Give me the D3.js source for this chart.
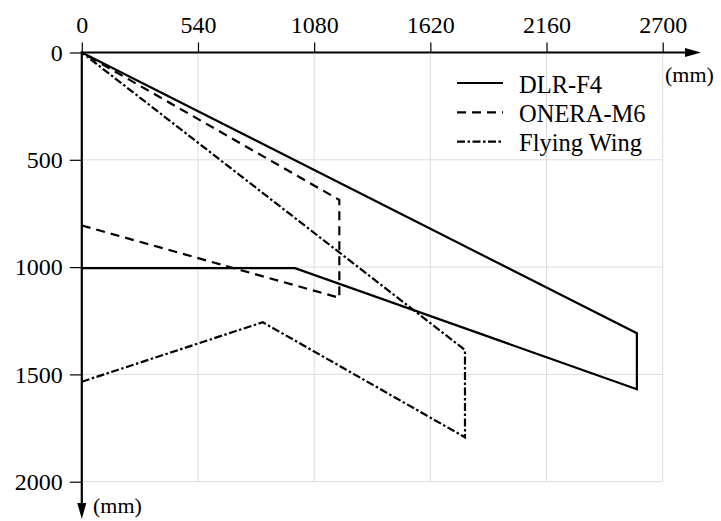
<!DOCTYPE html>
<html>
<head>
<meta charset="utf-8">
<script src="https://cdn.jsdelivr.net/npm/d3@7/dist/d3.min.js"></script>
<style>
  html, body { margin: 0; padding: 0; background: #fff; }
  svg { display: block; }
</style>
</head>
<body>
<svg id="chart" width="721" height="521"></svg>
<script>
// Planform outlines of three wings (x = spanwise, y = chordwise, mm)
const seriesNames = ["DLR-F4", "ONERA-M6", "Flying Wing"];
const dlrF4 = [[0, 1005], [991, 1005], [2580, 1569], [2580, 1308], [0, 0]];
const oneraM6 = [[0, 806], [1197, 1143], [1197, 687], [0, 0]];
const flyingWing = [[0, 1534], [841, 1257], [1781, 1793], [1781, 1386], [0, 0]];
const xTicks = [0, 540, 1080, 1620, 2160, 2700];
const yTicks = [0, 500, 1000, 1500, 2000];
const dashes = [null, "9,6", "8,2.5,2.5,2.5"];
const serif = "Liberation Serif";

const svg = d3.select("#chart");
const x = d3.scaleLinear().domain([0, 2700]).range([81.8, 662.7]);
const y = d3.scaleLinear().domain([0, 2000]).range([52.5, 481.7]);

// grid
const grid = svg.append("g").attr("stroke", "#dcdcdc").attr("stroke-width", 1);
grid.selectAll(".gx").data(xTicks.slice(1)).join("line")
  .attr("x1", d => x(d)).attr("x2", d => x(d))
  .attr("y1", y(0)).attr("y2", y(2000));
grid.selectAll(".gy").data(yTicks.slice(1)).join("line")
  .attr("x1", x(0)).attr("x2", x(2700))
  .attr("y1", d => y(d)).attr("y2", d => y(d));

// axes
const xAxis = svg.append("g").attr("transform", `translate(0,${y(0)})`)
  .call(d3.axisTop(x).tickValues(xTicks).tickSize(10).tickPadding(10).tickFormat(d3.format("d")));
const yAxis = svg.append("g").attr("transform", `translate(${x(0)},0)`)
  .call(d3.axisLeft(y).tickValues(yTicks).tickSize(12).tickPadding(7).tickFormat(d3.format("d")));
[xAxis, yAxis].forEach(g => {
  g.attr("font-family", serif).attr("font-size", 24);
  g.select(".domain").remove();
  g.selectAll(".tick line").attr("stroke", "#000").attr("stroke-width", 1.2);
  g.selectAll(".tick text").attr("font-family", serif).attr("font-size", 24).attr("fill", "#000");
});

// axis lines with arrow heads
svg.append("line").attr("x1", x(0) - 1).attr("x2", 690).attr("y1", y(0)).attr("y2", y(0))
  .attr("stroke", "#000").attr("stroke-width", 2.2);
svg.append("path").attr("d", `M701,${y(0)} L685,${y(0) - 4.5} L685,${y(0) + 4.5} Z`).attr("fill", "#000");
svg.append("line").attr("x1", x(0)).attr("x2", x(0)).attr("y1", y(0) - 1).attr("y2", 508)
  .attr("stroke", "#000").attr("stroke-width", 2.2);
svg.append("path").attr("d", `M${x(0)},519 L${x(0) - 4.5},503 L${x(0) + 4.5},503 Z`).attr("fill", "#000");

svg.append("text").attr("x", 665).attr("y", 82).attr("font-family", serif).attr("font-size", 22).text("(mm)");
svg.append("text").attr("x", 93).attr("y", 513).attr("font-family", serif).attr("font-size", 22).text("(mm)");

// outlines
const line = d3.line().x(d => x(d[0])).y(d => y(d[1]));
[dlrF4, oneraM6, flyingWing].forEach((pts, i) => {
  svg.append("path").attr("d", line(pts))
    .attr("fill", "none").attr("stroke", "#000").attr("stroke-width", 2.2)
    .attr("stroke-linejoin", "miter")
    .attr("stroke-dasharray", dashes[i]);
});

// legend
const legend = svg.append("g");
seriesNames.forEach((name, i) => {
  const cy = 83 + i * 29.3;
  legend.append("line").attr("x1", 457).attr("x2", 503).attr("y1", cy).attr("y2", cy)
    .attr("stroke", "#000").attr("stroke-width", 2.2).attr("stroke-dasharray", dashes[i]);
  legend.append("text").attr("x", 519).attr("y", cy + 9.5)
    .attr("font-family", serif).attr("font-size", 24.5).text(name);
});
</script>
</body>
</html>
